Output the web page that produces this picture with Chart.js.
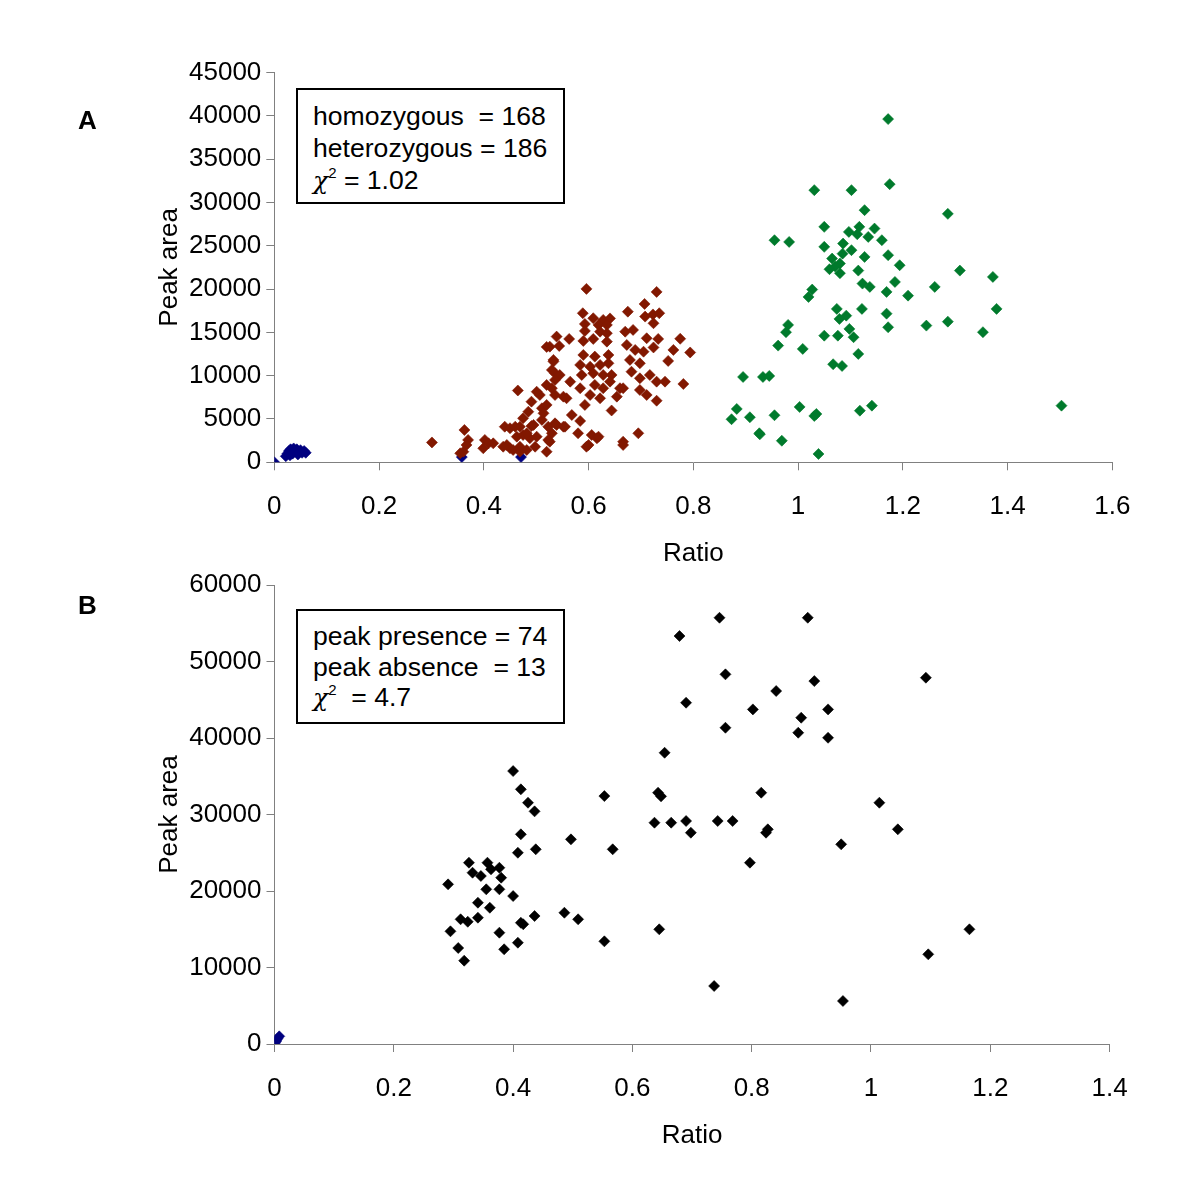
<!DOCTYPE html>
<html><head><meta charset="utf-8">
<script src="https://cdn.jsdelivr.net/npm/chart.js@4.4.1/dist/chart.umd.min.js"></script>
<style>
html,body{margin:0;padding:0;background:#fff;}
#wrap{position:relative;width:1200px;height:1200px;overflow:hidden;background:#fff;}
canvas{position:absolute;left:0;top:0;}
.box{position:absolute;z-index:5;border:2px solid #000;box-sizing:border-box;background:#fff;font-family:'Liberation Sans',Arial,sans-serif;font-size:26.6px;color:#000;white-space:pre;padding-left:15px;}
.chi{font-family:'DejaVu Serif','Liberation Serif',serif;font-style:italic;font-size:25px;}
sup{font-size:15px;vertical-align:11px;line-height:0;}
.panel{position:absolute;z-index:5;font-family:'Liberation Sans',Arial,sans-serif;font-weight:bold;font-size:26px;line-height:30px;color:#000;}
</style></head>
<body>
<div id="wrap">
<canvas id="cA" width="1200" height="1200"></canvas>
<canvas id="cB" width="1200" height="1200"></canvas>
<div class="panel" style="left:78px;top:105px;">A</div>
<div class="panel" style="left:78px;top:590px;">B</div>
<div class="box" style="left:296px;top:88px;width:269px;height:116px;padding-top:10px;line-height:32px;">homozygous  = 168
heterozygous = 186
<span class="chi">χ</span><sup>2</sup> = 1.02</div>
<div class="box" style="left:296px;top:609px;width:269px;height:115px;padding-top:10px;line-height:30.5px;">peak presence = 74
peak absence  = 13
<span class="chi">χ</span><sup>2</sup>  = 4.7</div>
</div>
<script>
// ---------- Panel A data ----------
const xTicksA = ['0','0.2','0.4','0.6','0.8','1','1.2','1.4','1.6'];
const yTicksA = ['0','5000','10000','15000','20000','25000','30000','35000','40000','45000'];

const hetRatio = [
0.596,0.730,0.707,0.675,0.589,0.708,0.723,0.735,0.609,0.628,
0.641,0.593,0.619,0.635,0.724,0.670,0.685,0.593,0.622,0.635,
0.539,0.563,0.520,0.544,0.711,0.733,0.775,0.590,0.609,0.635,
0.673,0.689,0.705,0.724,0.762,0.794,0.590,0.612,0.638,0.533,
0.679,0.698,0.752,0.584,0.603,0.622,0.638,0.536,0.545,0.587,
0.609,0.628,0.644,0.682,0.698,0.717,0.730,0.746,0.781,0.520,
0.530,0.565,0.584,0.612,0.628,0.641,0.660,0.698,0.507,0.536,
0.558,0.603,0.622,0.711,0.730,0.654,0.465,0.501,0.491,0.485,
0.511,0.475,0.511,0.593,0.644,0.568,0.584,0.520,0.514,0.536,
0.552,0.440,0.450,0.469,0.491,0.530,0.526,0.520,0.580,0.606,
0.616,0.600,0.666,0.666,0.695,0.363,0.301,0.370,0.355,0.361,
0.402,0.409,0.418,0.399,0.463,0.475,0.488,0.501,0.444,0.450,
0.469,0.482,0.498,0.523,0.526,0.533,0.530,0.536,0.619,0.596,
0.555,0.539,0.523,0.495,0.460,0.482,0.437,0.456,0.469,0.367,
0.552,0.666];
const hetArea = [
20020,19670,18280,17390,17210,16820,17070,17210,16630,16440,
16610,15970,15860,15860,16050,15080,15280,15170,15080,14900,
14510,14240,13320,13430,14320,14240,14260,14010,14240,13930,
13550,12970,12770,13260,12970,12680,12390,12200,12390,11640,
11820,11430,11700,11240,11040,11240,11430,10280,10080,10080,
10280,10080,10080,10460,9700,10080,9310,9310,9040,8930,
8550,9310,8550,8930,8550,9310,8550,8350,7770,7770,
7390,7770,7390,7770,7110,7580,8290,8150,7000,5840,
6240,5080,4890,6620,5980,5460,4770,6620,5660,4500,
4110,4110,3930,4110,4190,3350,2380,1220,3350,3150,
2770,2000,2380,2000,3350,3730,2290,2580,1040,1220,
2580,2190,2190,1620,2960,3150,2770,2960,2000,1620,
1800,1420,1800,2580,13350,11820,10660,9510,2960,1800,
4110,4310,4110,4310,4110,3350,1800,1420,1220,2000,
7580,8550];

const homRatio = [
1.172,1.175,1.031,1.102,1.127,1.286,1.050,1.117,1.097,1.113,
1.146,1.134,1.160,0.955,0.983,1.050,1.086,1.102,1.085,1.127,
1.172,1.065,1.194,1.080,1.071,1.060,1.080,1.115,1.309,1.372,
1.123,1.137,1.185,1.169,1.261,1.210,1.027,1.020,1.074,1.122,
1.379,1.092,1.079,1.169,1.172,1.098,1.106,1.050,1.076,0.981,
0.977,1.245,1.286,1.353,0.962,1.009,1.115,1.067,1.084,0.895,
0.933,0.945,0.883,0.873,0.908,0.955,1.003,1.031,1.035,1.118,
1.141,0.926,0.927,0.969,1.039,1.503];
const homArea = [
39620,32110,31420,31420,29110,28680,27180,27180,26600,26330,
26980,26020,25640,25640,25440,24870,25250,24490,24090,23710,
23910,23520,22750,22940,22590,22290,21830,22130,22130,21400,
20630,20250,20820,19670,20250,19240,19940,19090,17710,17710,
17710,16930,16550,17160,15590,15400,14440,14620,14620,15860,
15020,15780,16240,15020,13470,13090,12510,11320,11120,9850,
9850,9970,6160,4970,5200,5430,6390,5350,5580,5960,
6540,3350,3230,2490,960,6540];

const nullRatioA = [0,0.022,0.025,0.028,0.031,0.034,0.037,0.040,0.043,0.046,0.050,0.053,0.057,0.060,0.030,0.035,0.045,0.358,0.471];
const nullAreaA  = [0,700,1000,1300,1500,1400,1600,1300,1500,1200,1400,1100,1300,1100,800,1000,900,600,600];

// ---------- Panel B data ----------
const xTicksB = ['0','0.2','0.4','0.6','0.8','1','1.2','1.4'];
const yTicksB = ['0','10000','20000','30000','40000','50000','60000'];

const presRatio = [
0.746,0.894,0.679,0.756,1.092,0.905,0.841,0.690,0.802,0.928,
0.883,0.756,0.878,0.928,0.654,0.400,0.413,0.643,0.648,0.553,
0.816,0.425,0.436,1.014,0.637,0.665,0.690,0.698,0.743,0.768,
0.827,0.824,1.045,0.413,0.408,0.438,0.497,0.567,0.950,0.326,
0.357,0.363,0.377,0.332,0.346,0.380,0.291,0.355,0.377,0.400,
0.797,0.341,0.361,0.341,0.312,0.324,0.295,0.377,0.413,0.417,
0.436,0.486,0.509,0.645,0.553,0.308,0.385,0.408,0.318,1.165,
1.096,0.737,0.953];
const presArea = [
55720,55720,53330,48320,47880,47440,46140,44610,43740,43740,
42650,41340,40690,40030,38070,35680,33290,32850,32370,32410,
32850,31540,30410,31540,28930,28930,29150,27620,29150,29150,
28060,27620,28060,27410,25000,25450,26750,25450,26100,23700,
23700,22830,23040,22390,21960,21740,20870,20220,20220,19340,
23700,18470,17810,16510,16300,15980,14730,14550,15850,15650,
16730,17160,16300,14990,13420,12550,12380,13240,10890,14990,
11720,7580,5620];

const absRatio = [0.001,0.003,0.005,0.008];
const absArea  = [150,400,700,1000];

// ---------- build ----------
const FONT = "'Liberation Sans', Arial, sans-serif";
const zip = (xs, ys) => xs.map((x, i) => ({x: x, y: ys[i]}));

function ds(label, xs, ys, color) {
  return {label: label, data: zip(xs, ys), pointStyle: 'rectRot', pointRadius: 5.5,
    pointHoverRadius: 5.5, backgroundColor: color, borderColor: color, borderWidth: 0.6, showLine: false};
}

function scales(xMax, xStep, xLabels, yMax, yStep, yLabels, yWidth) {
  const tickFont = {family: FONT, size: 26};
  return {
    x: {type: 'linear', min: 0, max: xMax,
      afterFit: s => { s.height = 110; },
      ticks: {stepSize: xStep, padding: 21, color: '#000', font: tickFont, maxRotation: 0, autoSkip: false,
        callback: v => xLabels[Math.round(v / xStep)]},
      grid: {drawOnChartArea: false, drawTicks: true, tickLength: 8, color: '#808080', lineWidth: 1},
      border: {display: true, color: '#808080', width: 1},
      title: {display: true, text: 'Ratio', color: '#000', font: tickFont, padding: {top: 0, bottom: 3}}
    },
    y: {type: 'linear', min: 0, max: yMax,
      afterFit: s => { s.width = yWidth; },
      ticks: {stepSize: yStep, padding: 5, color: '#000', font: tickFont, autoSkip: false,
        callback: v => yLabels[Math.round(v / yStep)]},
      grid: {drawOnChartArea: false, drawTicks: true, tickLength: 8, color: '#808080', lineWidth: 1},
      border: {display: true, color: '#808080', width: 1},
      title: {display: true, text: 'Peak area', color: '#000', font: tickFont, padding: {top: 14, bottom: 0}}
    }
  };
}

const common = {responsive: false, animation: false, events: [],
  plugins: {legend: {display: false}, tooltip: {enabled: false}}};

new Chart(document.getElementById('cA'), {
  type: 'scatter',
  data: {datasets: [
    ds('heterozygous', hetRatio, hetArea, '#821800'),
    ds('homozygous', homRatio, homArea, '#007A2C'),
    ds('homozygous null', nullRatioA, nullAreaA, '#00007F')
  ]},
  options: Object.assign({}, common, {
    layout: {padding: {left: 140, right: 87.7, top: 72.5, bottom: 627.7}},
    scales: scales(1.6, 0.2, xTicksA, 45000, 5000, yTicksA, 134.3)
  })
});

new Chart(document.getElementById('cB'), {
  type: 'scatter',
  data: {datasets: [
    ds('peak presence', presRatio, presArea, '#000000'),
    ds('peak absence', absRatio, absArea, '#00007F')
  ]},
  options: Object.assign({}, common, {
    layout: {padding: {left: 140, right: 90.4, top: 585, bottom: 46}},
    scales: scales(1.4, 0.2, xTicksB, 60000, 10000, yTicksB, 134.5)
  })
});
</script>
</body></html>
